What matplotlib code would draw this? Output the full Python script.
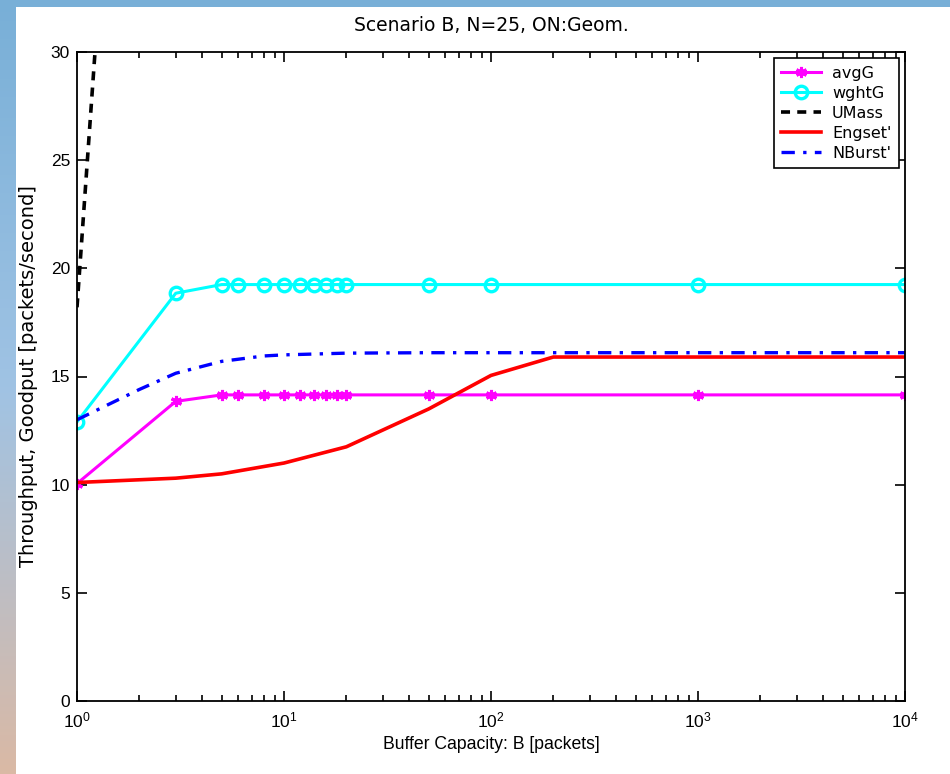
import numpy as np
import matplotlib
matplotlib.use("Agg")
import matplotlib.pyplot as plt
from matplotlib.patches import Rectangle
from matplotlib.ticker import LogLocator, FixedLocator

plt.rcParams['font.family'] = ['Liberation Sans', 'DejaVu Sans']
plt.rcParams['mathtext.fontset'] = 'custom'
plt.rcParams['mathtext.rm'] = 'Liberation Sans'

# ---- data ----
buf_markers = [1, 3, 5, 6, 8, 10, 12, 14, 16, 18, 20, 50, 100, 1000, 10000]
avgG = [10.05, 13.85, 14.15, 14.15, 14.15, 14.15, 14.15, 14.15, 14.15, 14.15, 14.15, 14.15, 14.15, 14.15, 14.15]
wghtG = [12.9, 18.85, 19.25, 19.25, 19.25, 19.25, 19.25, 19.25, 19.25, 19.25, 19.25, 19.25, 19.25, 19.25, 19.25]
umass_x = [1, 2]
umass_y = [18.2, 59.0]
engset_x = [1, 3, 5, 10, 20, 50, 100, 200, 10000]
engset_y = [10.1, 10.3, 10.5, 11.0, 11.75, 13.5, 15.05, 15.9, 15.9]
nburst_x = [1, 2, 3, 5, 8, 10, 20, 50, 100, 10000]
nburst_y = [13.0, 14.4, 15.15, 15.7, 15.95, 16.0, 16.08, 16.1, 16.1, 16.1]

fig = plt.figure(figsize=(9.5, 7.74), dpi=100)

# background gradient (slide backdrop)
bg = fig.add_axes([0, 0, 1, 1], zorder=-10)
t = np.linspace(0, 1, 256)[:, None]
top = np.array([120, 175, 215]) / 255
mid = np.array([160, 195, 228]) / 255
bot = np.array([218, 185, 165]) / 255
grad = np.where(t < 0.5, top + (mid - top) * (t / 0.5), mid + (bot - mid) * ((t - 0.5) / 0.5))
grad = np.repeat(grad[:, None, :], 2, axis=1)
bg.imshow(grad, aspect='auto', extent=[0, 1, 0, 1], origin='upper')
bg.set_xlim(0, 1); bg.set_ylim(0, 1)
bg.axis('off')
fig.patches.append(Rectangle((16 / 950, 0), 1, (774 - 7) / 774, transform=fig.transFigure,
                             facecolor='white', edgecolor='none', zorder=-5))

ax = fig.add_axes([77 / 950, (774 - 701) / 774, (905 - 77) / 950, (701 - 52) / 774])
ax.set_xscale('log')

ax.plot(buf_markers, avgG, color='#ff00ff', lw=2.2, marker=(6, 2, 0), ms=8, mew=2.2, label='avgG')
ax.plot(buf_markers, wghtG, color='#00ffff', lw=2.2, marker='o', ms=9, mew=2.4,
        mfc='none', label='wghtG')
ax.plot(umass_x, umass_y, color='black', lw=2.6, ls=(0, (2.5, 2)), label='UMass')
ax.plot(engset_x, engset_y, color='red', lw=2.6, label="Engset'")
ax.plot(nburst_x, nburst_y, color='blue', lw=2.4, ls=(0, (4, 2.5, 1, 2.5)), label="NBurst'")

ax.set_xlim(1, 1e4)
ax.set_ylim(0, 30)
ax.yaxis.set_major_locator(FixedLocator([0, 5, 10, 15, 20, 25, 30]))
ax.xaxis.set_major_locator(LogLocator(base=10, numticks=10))
ax.xaxis.set_minor_locator(LogLocator(base=10, subs=np.arange(2, 10), numticks=20))
ax.tick_params(which='both', direction='in', top=True, right=True, labelsize=12.5, width=1.2)
ax.tick_params(which='major', length=7)
ax.tick_params(which='minor', length=4)
ax.tick_params(axis='x', pad=7)
ax.tick_params(axis='y', pad=5)
for s in ax.spines.values():
    s.set_linewidth(1.3)

ax.set_title('Scenario B, N=25, ON:Geom.', fontsize=13.5, pad=15, family='DejaVu Sans')
ax.set_xlabel('Buffer Capacity: B [packets]', fontsize=12.7, labelpad=4)
ax.set_ylabel('Throughput, Goodput [packets/second]', fontsize=14, labelpad=9,
              family='DejaVu Sans')

leg = ax.legend(loc='upper right', prop={'family': 'DejaVu Sans', 'size': 11.5}, frameon=True,
                fancybox=False, edgecolor='black', framealpha=1, handlelength=2.5,
                borderaxespad=0.4, labelspacing=0.32, handletextpad=0.7, borderpad=0.45)
leg.get_frame().set_linewidth(1.2)

fig.savefig('out.png', dpi=100)
